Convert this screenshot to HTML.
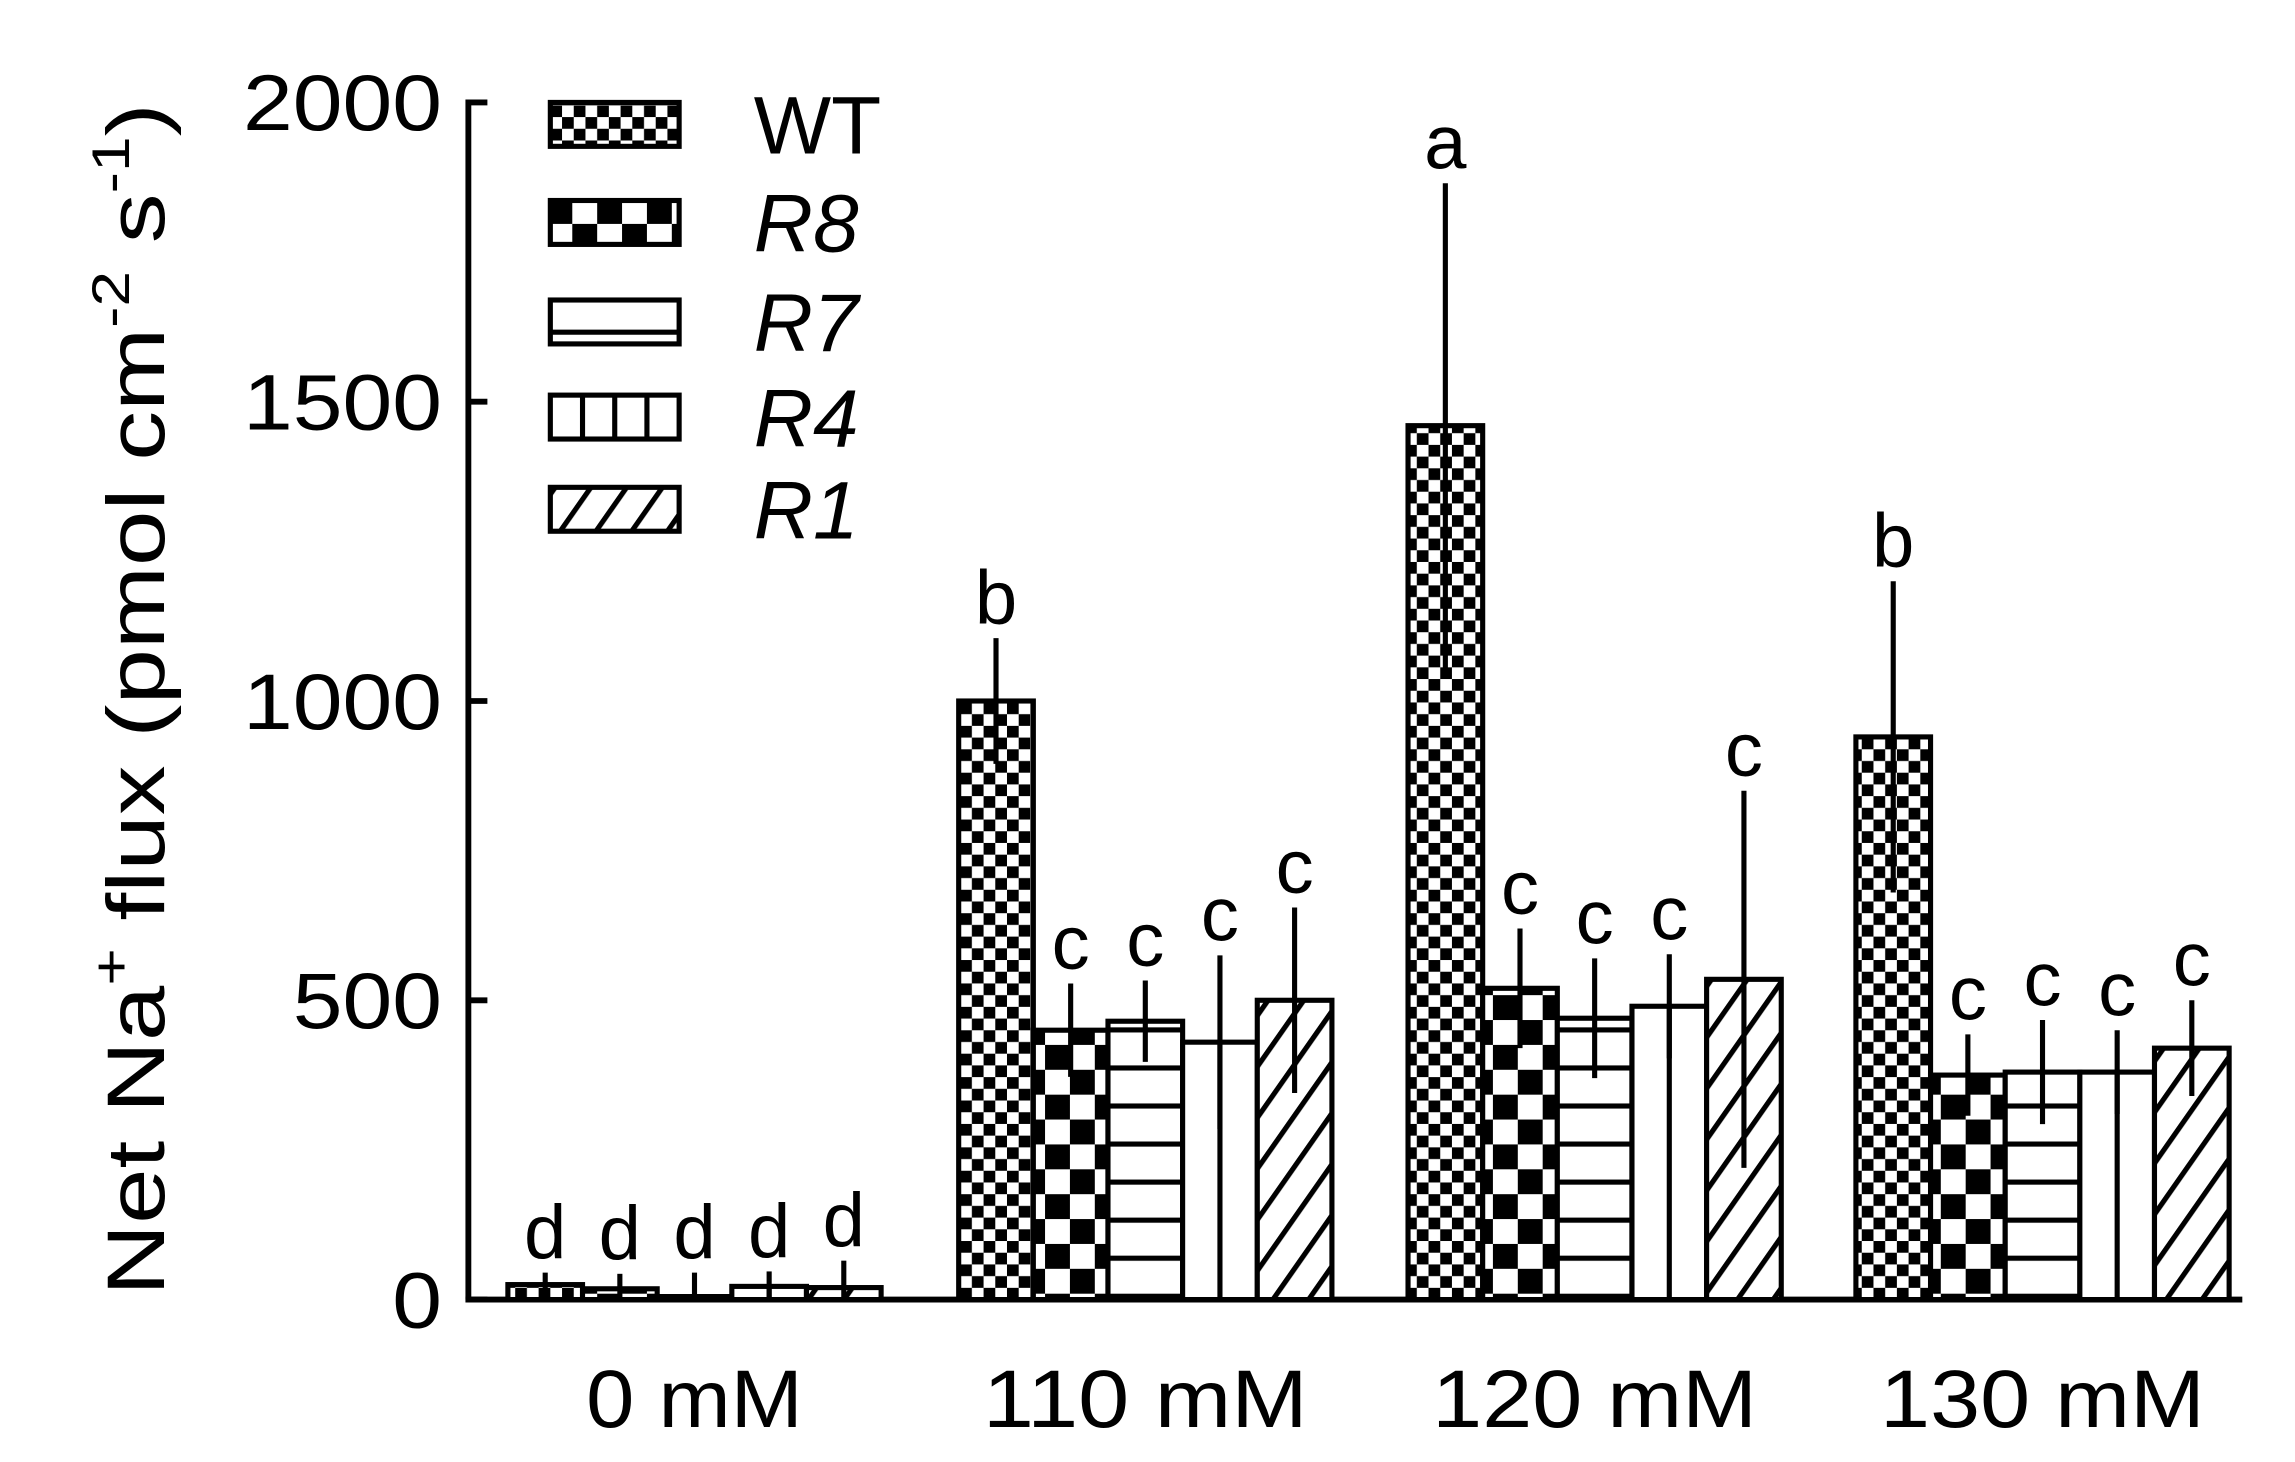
<!DOCTYPE html>
<html><head><meta charset="utf-8"><style>
html,body{margin:0;padding:0;background:#fff}
svg{display:block}
text{font-family:"Liberation Sans",Arial,sans-serif;fill:#000}
</style></head><body>
<svg id="chart" width="2295" height="1462" viewBox="0 0 1568 999" preserveAspectRatio="none" xmlns="http://www.w3.org/2000/svg">
<defs>
<pattern id="p-wt" width="16" height="16" patternUnits="userSpaceOnUse"><rect width="16" height="16" fill="#fff"/><rect width="8" height="8" fill="#000"/><rect x="8" y="8" width="8" height="8" fill="#000"/></pattern>
<pattern id="p-r8" width="34" height="34" patternUnits="userSpaceOnUse"><rect width="34" height="34" fill="#fff"/><rect width="17" height="17" fill="#000"/><rect x="17" y="17" width="17" height="17" fill="#000"/></pattern>
<pattern id="p-r7" width="10" height="26" patternUnits="userSpaceOnUse"><rect width="10" height="26" fill="#fff"/><rect y="0" width="10" height="3.5" fill="#000"/></pattern>
<pattern id="p-r1" width="20" height="20" patternUnits="userSpaceOnUse" patternTransform="rotate(35)"><rect width="20" height="20" fill="#fff"/><rect width="3.5" height="20" fill="#000"/></pattern>
</defs>
<g id="axes"></g>
<g id="bars"></g>
<g id="legend"></g>
</svg>
<script>
const categories = ["0 mM","110 mM","120 mM","130 mM"];
const series = ["WT","R8","R7","R4","R1"];
const valWT = [25, 1000, 1460, 940];
const valR8 = [18, 450, 520, 375];
const valR7 = [5, 465, 470, 380];
const valR4 = [22, 430, 490, 380];
const valR1 = [20, 500, 535, 420];
const errWT = [20, 105, 405, 260];
const errR8 = [25, 78, 100, 68];
const errR7 = [40, 68, 100, 87];
const errR4 = [25, 145, 87, 70];
const errR1 = [45, 155, 315, 80];
const lettersWT = ["d","b","a","b"];
const lettersR8 = ["d","c","c","c"];
const lettersR7 = ["d","c","c","c"];
const lettersR4 = ["d","c","c","c"];
const lettersR1 = ["d","c","c","c"];
const yTicks = [0,500,1000,1500,2000];

const NS="http://www.w3.org/2000/svg";
const svg=document.getElementById('chart');
const gA=document.getElementById('axes'),gB=document.getElementById('bars'),gL=document.getElementById('legend');
const X0=320,XE=1532,Y0=888,Y1=70,YMAX=2000;
const yS=v=>Y0-(v/YMAX)*(Y0-Y1);
const groupStart=[347,655,962,1268], barW=51;
const xBar=(g,s)=>groupStart[g]+s*barW;
function mk(tag,attrs,parent){const e=document.createElementNS(NS,tag);for(const k in attrs)e.setAttribute(k,attrs[k]);parent.appendChild(e);return e;}

let e;
e=mk('line',{x1:X0,y1:Y1-2,x2:X0,y2:Y0,stroke:'#000','stroke-width':4},gA);


e=mk('line',{x1:X0-2,y1:Y0,x2:XE,y2:Y0,stroke:'#000','stroke-width':4},gA);


yTicks.forEach(t=>{
  const y=yS(t);
  let tk=mk('line',{x1:X0,y1:y,x2:X0+13,y2:y,stroke:'#000','stroke-width':4},gA);
  
  
  let tx=mk('text',{x:302,y:y+19,'text-anchor':'end','font-size':54,lengthAdjust:'spacingAndGlyphs'},gA);
  tx.textContent=String(t);
  tx.setAttribute('textLength',String(t).length*34);
  
  
});
categories.forEach((c,i)=>{
  const cx=groupStart[i]+barW*2.5;
  let tx=mk('text',{x:cx,y:975,'text-anchor':'middle','font-size':56,lengthAdjust:'spacingAndGlyphs'},gA);
  tx.textContent=c;
  tx.setAttribute('textLength',c.length*37);
  
  
});
let yt=mk('text',{transform:'translate(112,478) rotate(-90)','text-anchor':'middle','font-size':56,lengthAdjust:'spacingAndGlyphs'},gA);
yt.innerHTML='Net Na<tspan font-size="36" dy="-24">+</tspan><tspan dy="24"> flux (pmol cm</tspan><tspan font-size="36" dy="-24">-2</tspan><tspan dy="24"> s</tspan><tspan font-size="36" dy="-24">-1</tspan><tspan dy="24">)</tspan>';
yt.setAttribute('textLength','815');



const vals=[valWT,valR8,valR7,valR4,valR1];
const errs=[errWT,errR8,errR7,errR4,errR1];
const lets=[lettersWT,lettersR8,lettersR7,lettersR4,lettersR1];
const fills=['url(#p-wt)','url(#p-r8)','url(#p-r7)','#fff','url(#p-r1)'];
function drawBox(x,y,w,h,s,parent,legend){
  let r=mk('rect',{x:x,y:y,width:w,height:h,fill:(legend&&s===2)?'#fff':fills[s],stroke:'#000','stroke-width':3.5},parent);
  if(s===3){
    const n=legend?3:1;
    for(let k=1;k<=n;k++){const lx=x+w*k/(n+1);mk('line',{x1:lx,y1:y,x2:lx,y2:y+h,stroke:'#000','stroke-width':3.5},parent);}
  }
  if(legend&&s===2){mk('line',{x1:x,y1:y+h-8,x2:x+w,y2:y+h-8,stroke:'#000','stroke-width':3.5},parent);}
  return r;
}
categories.forEach((c,g)=>{
  series.forEach((s,si)=>{
    const v=vals[si][g],er=errs[si][g];
    const x=xBar(g,si),yt=yS(v);
    let r=drawBox(x,yt,barW,Y0-yt,si,gB,false);
    
    
    const cx=x+barW/2;
    let el=mk('line',{x1:cx,y1:yS(v+er),x2:cx,y2:yS(Math.max(0,v-er)),stroke:'#000','stroke-width':3.5},gB);
    
    
    let lt=mk('text',{x:cx,y:yS(v+er)-10,'text-anchor':'middle','font-size':52},gB);
    lt.textContent=lets[si][g];
    
    
  });
});
const legY=[70,137,205,270,333];
series.forEach((s,i)=>{
  let b=drawBox(376,legY[i],88,30,i,gL,true);
  
  
  let t=mk('text',{x:515,y:legY[i]+35,'font-size':56},gL);
  if(i>0)t.setAttribute('font-style','italic');
  t.textContent=s;
  
  
});
</script>
</body></html>
